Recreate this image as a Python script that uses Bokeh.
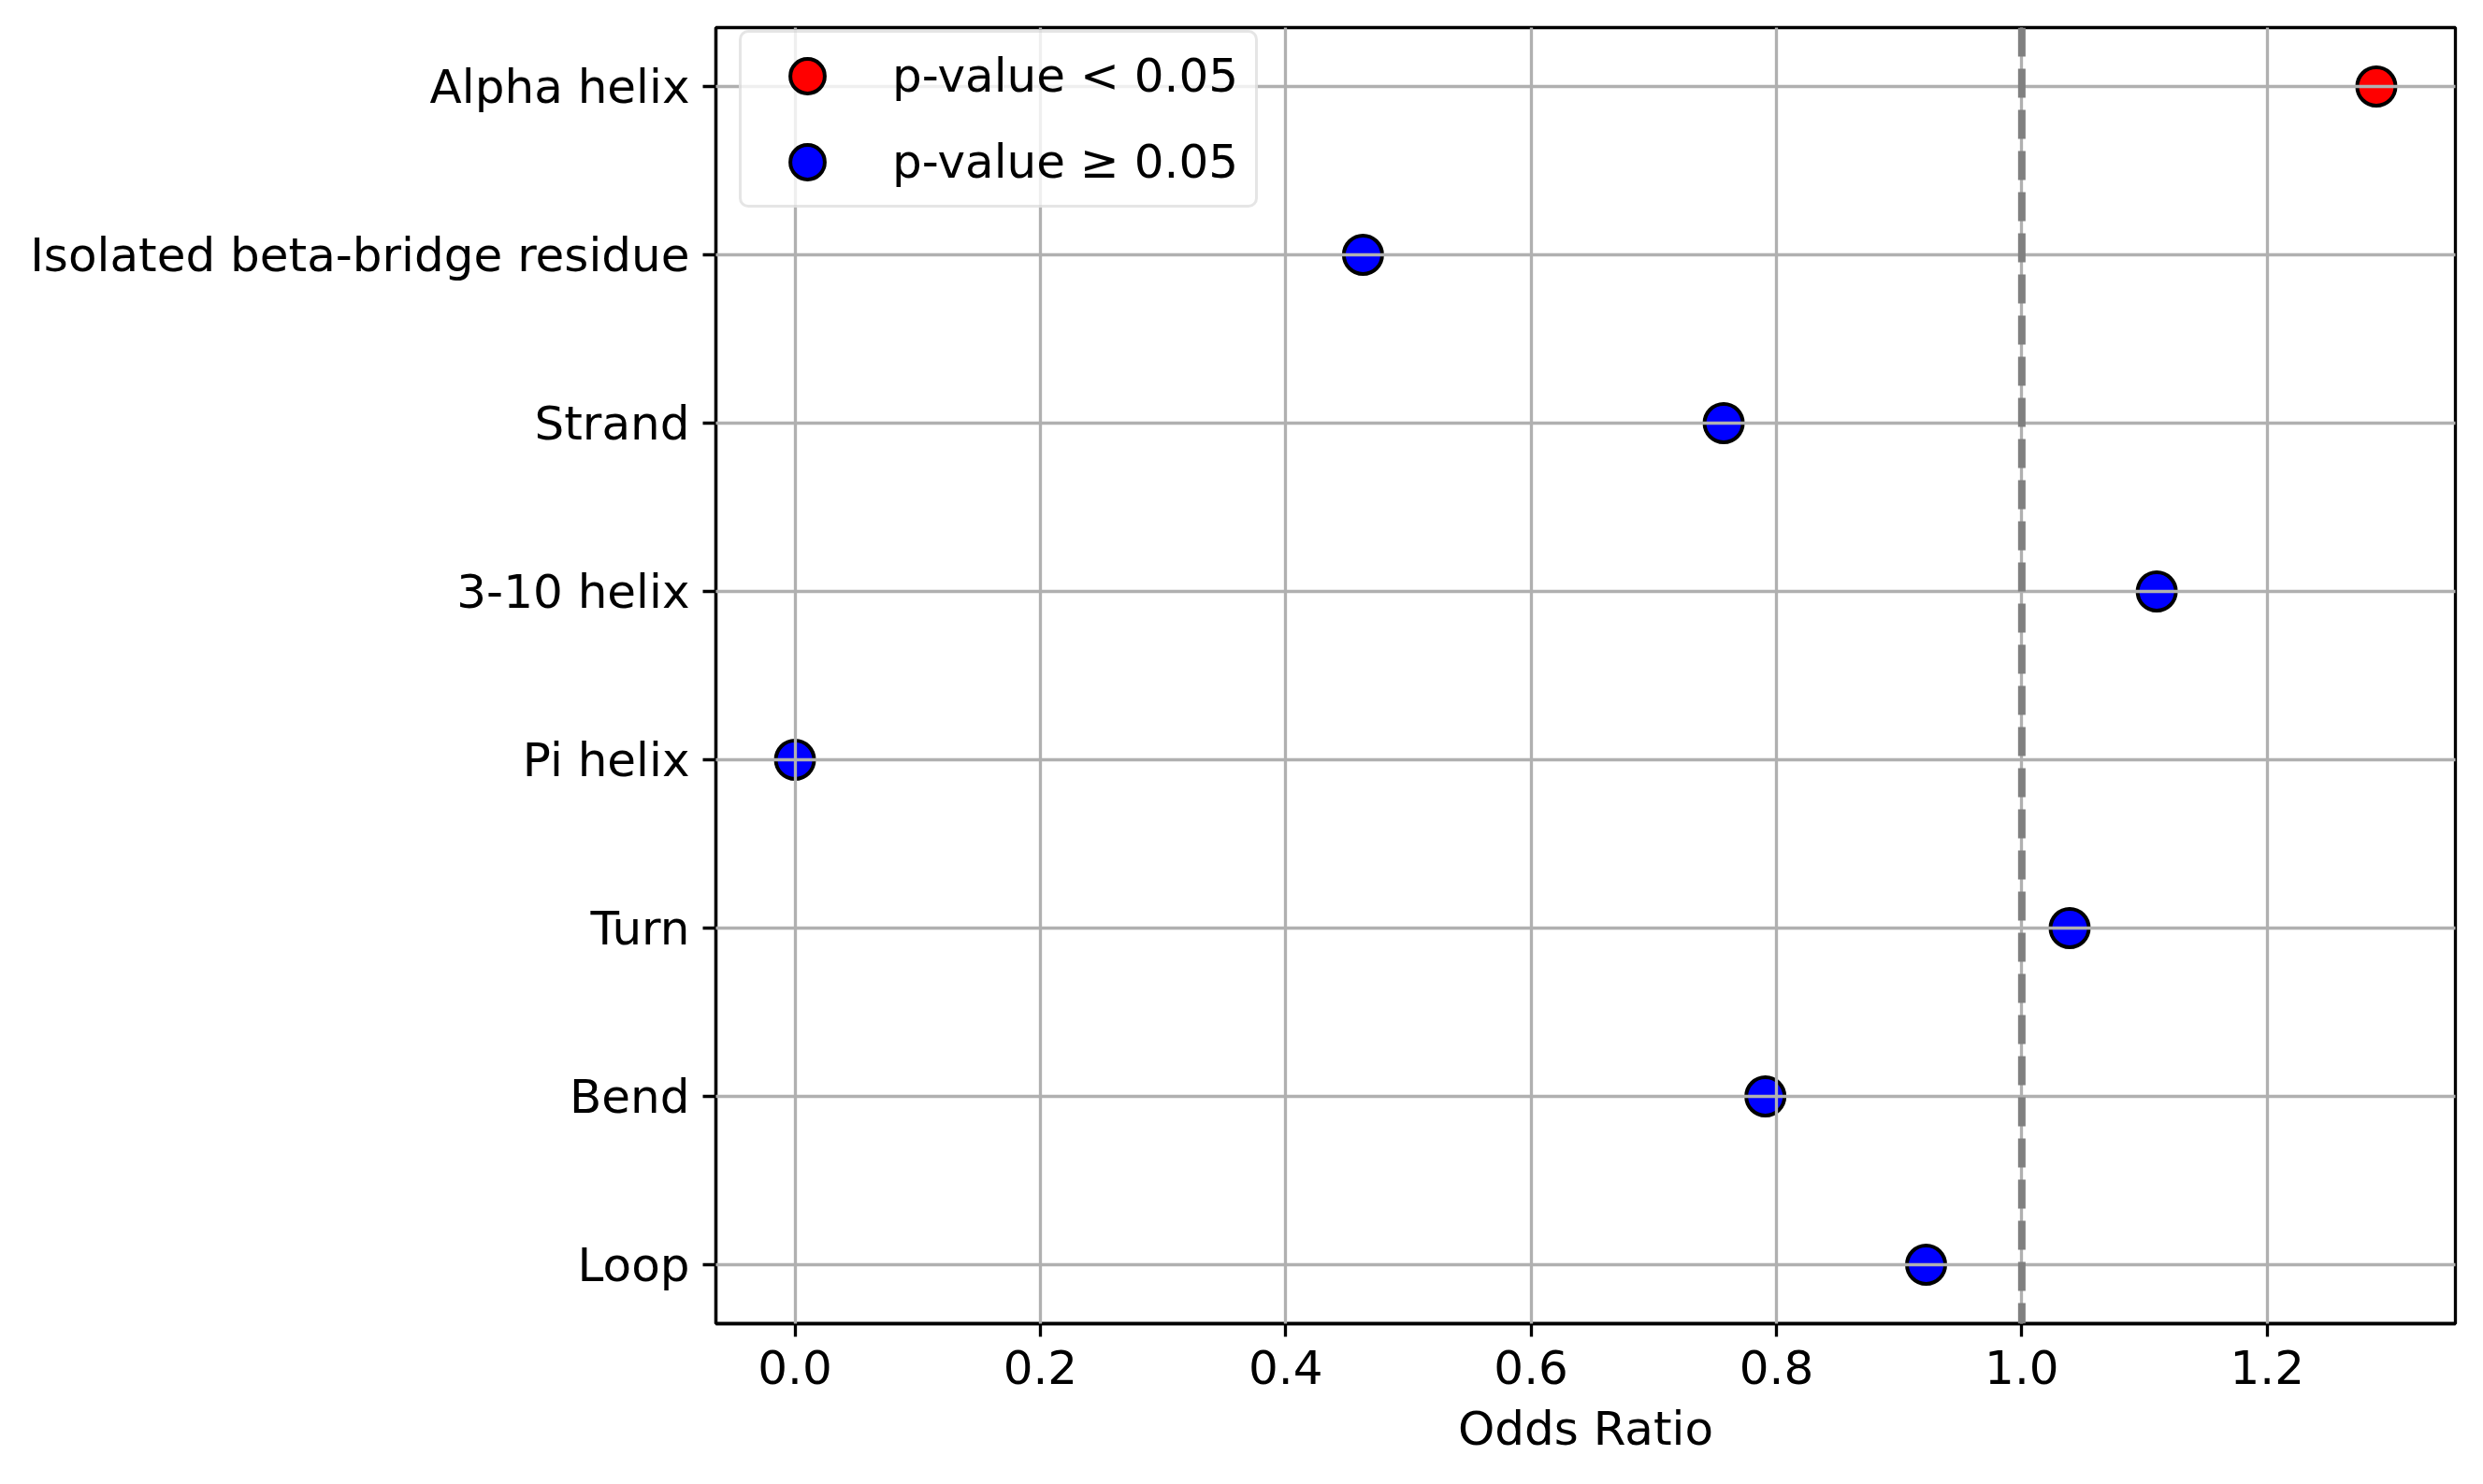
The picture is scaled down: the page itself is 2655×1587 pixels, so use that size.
from bokeh.plotting import figure
from bokeh.models import (ColumnDataSource, Range1d, FixedTicker, PrintfTickFormatter,
                          Span, Legend, LegendItem)
from bokeh.embed import file_html
from bokeh.resources import INLINE

# ---- data ----
categories = ["Alpha helix", "Isolated beta-bridge residue", "Strand", "3-10 helix",
              "Pi helix", "Turn", "Bend", "Loop"]
odds_ratio = [1.289, 0.463, 0.757, 1.110, 0.0, 1.039, 0.791, 0.922]
significant = [True, False, False, False, False, False, False, False]
x_ticks = [0.0, 0.2, 0.4, 0.6, 0.8, 1.0, 1.2]
reference_line = 1.0
legend_labels = ["p-value < 0.05", "p-value \u2265 0.05"]

FONT = "DejaVu Sans"
FS = "50px"
LW = 3.3

n = len(categories)
ypos = [n - 1 - i for i in range(n)]

sig_src = ColumnDataSource(dict(
    x=[v for v, s in zip(odds_ratio, significant) if s],
    y=[y for y, s in zip(ypos, significant) if s]))
ns_src = ColumnDataSource(dict(
    x=[v for v, s in zip(odds_ratio, significant) if not s],
    y=[y for y, s in zip(ypos, significant) if not s]))

lo, hi = min(odds_ratio), max(odds_ratio)
pad = 0.05 * (hi - lo)

p = figure(frame_width=1860, frame_height=1386,
           min_border_left=765, min_border_right=30,
           min_border_top=29, min_border_bottom=172,
           x_range=Range1d(lo - pad, hi + pad),
           y_range=Range1d(-0.35, n - 1 + 0.35),
           output_backend="svg", toolbar_location=None)

p.background_fill_color = "white"
p.border_fill_color = "white"
p.outline_line_color = "black"
p.outline_line_width = LW

# axes
for ax in (p.xaxis[0], p.yaxis[0]):
    ax.axis_line_color = "black"
    ax.axis_line_width = LW
    ax.major_tick_line_color = "black"
    ax.major_tick_line_width = LW
    ax.major_tick_out = 14
    ax.major_tick_in = 0
    ax.minor_tick_line_color = None
    ax.major_label_text_font = FONT
    ax.major_label_text_font_size = FS
    ax.major_label_text_color = "black"
    ax.major_label_standoff = 14

p.xaxis.ticker = FixedTicker(ticks=x_ticks)
p.xaxis.formatter = PrintfTickFormatter(format="%.1f")
p.xaxis.axis_label = "Odds Ratio"
p.xaxis.axis_label_text_font = FONT
p.xaxis.axis_label_text_font_size = FS
p.xaxis.axis_label_text_font_style = "normal"
p.xaxis.axis_label_text_color = "black"
p.xaxis.axis_label_standoff = 16

p.yaxis.ticker = FixedTicker(ticks=ypos)
p.yaxis.major_label_overrides = {y: c for y, c in zip(ypos, categories)}

# grid
for g in (p.xgrid[0], p.ygrid[0]):
    g.grid_line_color = "#b0b0b0"
    g.grid_line_width = LW
    g.level = "guide"
p.xgrid.ticker = FixedTicker(ticks=x_ticks)
p.ygrid.ticker = FixedTicker(ticks=ypos)

# points
r_sig = p.scatter("x", "y", source=sig_src, size=41, fill_color="red",
                  line_color="black", line_width=4)
r_ns = p.scatter("x", "y", source=ns_src, size=41, fill_color="blue",
                 line_color="black", line_width=4)

# reference line
p.add_layout(Span(location=reference_line, dimension="height", line_color="gray",
                  line_width=8, line_dash="31 13"))

GH = 92
legend = Legend(items=[LegendItem(label=legend_labels[0], renderers=[r_sig]),
                       LegendItem(label=legend_labels[1], renderers=[r_ns])],
                location=(25, 1386 - (130 - 29 + GH)), margin=0, padding=0, spacing=0,
                glyph_width=140, glyph_height=GH, label_height=GH, label_standoff=21,
                label_width=388,
                label_text_font=FONT, label_text_font_size=FS,
                label_text_color="black",
                border_line_color="#cccccc", border_line_width=3,
                background_fill_color="white", background_fill_alpha=0.8)
try:
    legend.border_radius = 10
except Exception:
    pass
p.add_layout(legend)

open("out.html", "w").write(file_html(p, INLINE))
